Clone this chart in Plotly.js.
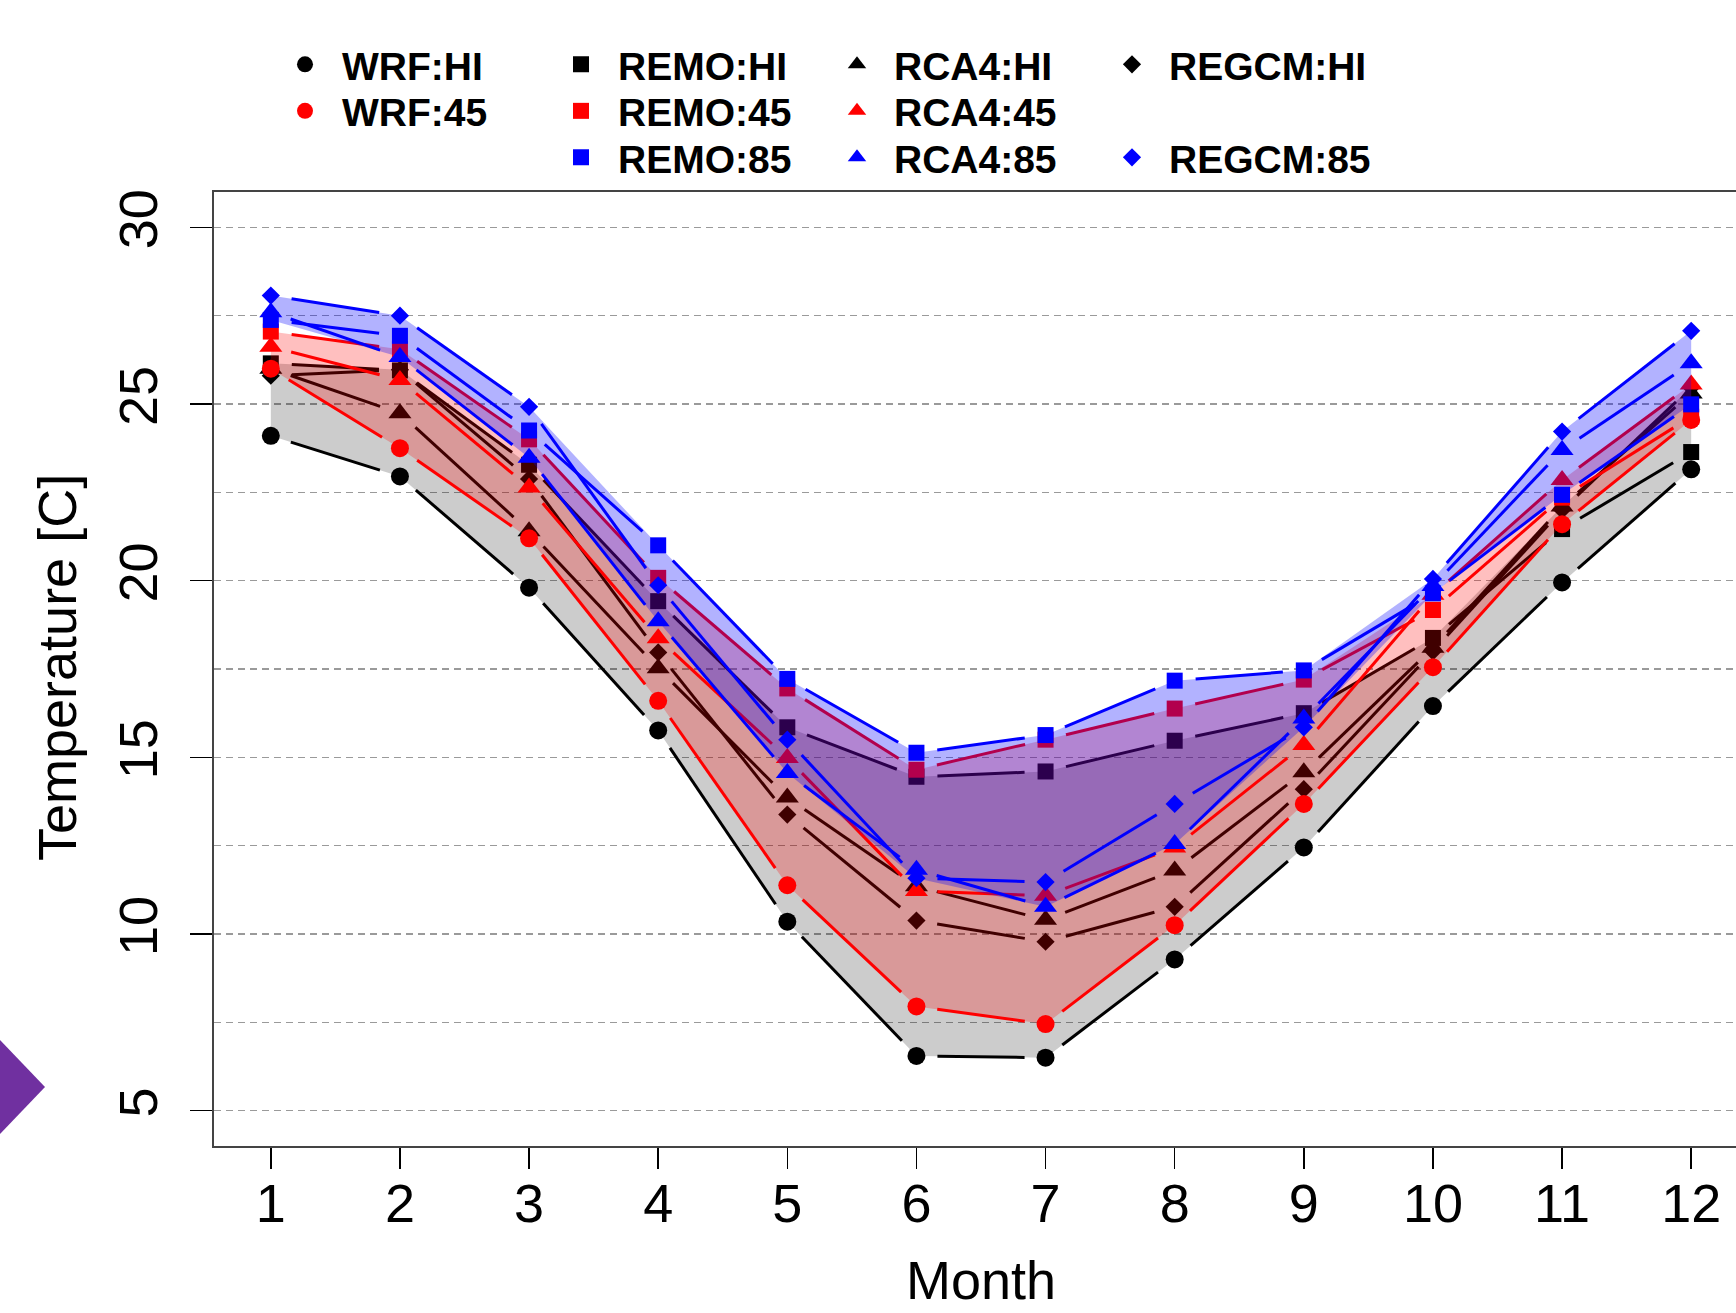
<!DOCTYPE html>
<html><head><meta charset="utf-8">
<script src="https://cdn.plot.ly/plotly-3.0.1.min.js"></script>
<style>html,body{margin:0;padding:0;overflow:hidden;background:#fff;} #chart{width:1750px;height:1313px;}</style>
</head><body><div id="chart"></div>
<script>
// ---- data ----
const months = [1,2,3,4,5,6,7,8,9,10,11,12];
const wrfHI   = [24.10, 22.95, 19.80, 15.76, 10.35, 6.55, 6.50, 9.28, 12.45, 16.45, 19.95, 23.15];
const wrf45   = [26.00, 23.75, 21.20, 16.60, 11.38, 7.95, 7.45, 10.25, 13.68, 17.55, 21.60, 24.55];
const remoHI  = [26.15, 25.95, 23.28, 19.42, 15.85, 14.45, 14.60, 15.47, 16.25, 18.38, 21.46, 23.64];
const remo45  = [27.05, 26.55, 24.00, 20.08, 16.95, 14.65, 15.50, 16.38, 17.20, 19.17, 22.35, 24.64];
const remo85  = [27.38, 26.93, 24.25, 21.00, 17.22, 15.13, 15.63, 17.17, 17.46, 19.64, 22.43, 24.99];
const rca4HI  = [26.00, 24.74, 21.40, 17.52, 13.86, 11.35, 10.40, 11.80, 14.58, 18.10, 22.10, 25.30];
const rca445  = [26.62, 25.68, 22.64, 18.37, 14.98, 11.22, 11.08, 12.45, 15.35, 19.60, 22.85, 25.55];
const rca485  = [27.60, 26.33, 23.48, 18.85, 14.56, 11.82, 10.77, 12.55, 16.10, 19.85, 23.70, 26.15];
const regcmHI = [25.80, 25.97, 22.88, 17.97, 13.38, 10.38, 9.78, 10.77, 14.10, 18.00, 22.00, 25.47];
const regcm85 = [28.07, 27.50, 24.92, 19.87, 15.50, 11.58, 11.47, 13.68, 15.85, 20.05, 24.22, 27.07];
const yTickVals = [5, 10, 15, 20, 25, 30];
const xTickText = months.map(String);

// ---- styling ----
const FONT = 'Liberation Sans, Arial, Helvetica, sans-serif';
const W = 1750, H = 1313;
const M = {l: 214, r: 2, t: 192, b: 167, autoexpand: false};
const XR = [0.56, 12.44], YR = [4, 31];
const colHI = '#000000', col45 = '#ff0000', col85 = '#0000ff';
const SYM = {WRF: ['circle', 18], REMO: ['square', 16], RCA4: ['triangle-up', 20], REGCM: ['diamond', 14]};
const GAP = 21; // px gap between line segments and points (R type="b")
// legend cell (column, row) for each series
const legendX = [305, 581, 857, 1132];
const legendY = [64.5, 111, 157.5];

const groups = [
  {fill: 'rgba(0,0,0,0.2)', color: colHI, series: [
    {name: 'WRF:HI', model: 'WRF', y: wrfHI, cell: [0,0]},
    {name: 'REMO:HI', model: 'REMO', y: remoHI, cell: [1,0]},
    {name: 'RCA4:HI', model: 'RCA4', y: rca4HI, cell: [2,0]},
    {name: 'REGCM:HI', model: 'REGCM', y: regcmHI, cell: [3,0]}]},
  {fill: 'rgba(255,0,0,0.25)', color: col45, series: [
    {name: 'WRF:45', model: 'WRF', y: wrf45, cell: [0,1]},
    {name: 'REMO:45', model: 'REMO', y: remo45, cell: [1,1]},
    {name: 'RCA4:45', model: 'RCA4', y: rca445, cell: [2,1]}]},
  {fill: 'rgba(0,0,255,0.3)', color: col85, series: [
    {name: 'REMO:85', model: 'REMO', y: remo85, cell: [1,2]},
    {name: 'RCA4:85', model: 'RCA4', y: rca485, cell: [2,2]},
    {name: 'REGCM:85', model: 'REGCM', y: regcm85, cell: [3,2]}]}
];

const plotW = W - M.l - M.r, plotH = H - M.t - M.b;
const kx = plotW / (XR[1] - XR[0]), ky = plotH / (YR[1] - YR[0]);

// segments between consecutive points, trimmed at both ends like R's type="b"
function gappedSegments(xs, ys) {
  const sx = [], sy = [];
  for (let i = 0; i < xs.length - 1; i++) {
    const dx = xs[i+1] - xs[i], dy = ys[i+1] - ys[i];
    const L = Math.hypot(dx * kx, dy * ky);
    if (L <= 2 * GAP) continue;
    const t = GAP / L;
    sx.push(xs[i] + t * dx, xs[i+1] - t * dx, null);
    sy.push(ys[i] + t * dy, ys[i+1] - t * dy, null);
  }
  return [sx, sy];
}

const traces = [];
const layoutLegends = {};
let legendIdx = 0;
groups.forEach(g => {
  const ys = g.series.map(s => s.y);
  const hi = months.map((m, i) => Math.max(...ys.map(a => a[i])));
  const lo = months.map((m, i) => Math.min(...ys.map(a => a[i])));
  traces.push({
    type: 'scatter', mode: 'lines', x: months.concat(months.slice().reverse()),
    y: hi.concat(lo.slice().reverse()), fill: 'toself', fillcolor: g.fill,
    line: {width: 0}, showlegend: false, hoverinfo: 'skip'
  });
  g.series.forEach(s => {
    legendIdx += 1;
    const key = legendIdx === 1 ? 'legend' : 'legend' + legendIdx;
    const seg = gappedSegments(months, s.y);
    traces.push({type: 'scatter', mode: 'lines', x: seg[0], y: seg[1], connectgaps: false,
      line: {color: g.color, width: 3}, showlegend: false, hoverinfo: 'skip'});
    traces.push({type: 'scatter', mode: 'markers', x: months, y: s.y, name: s.name,
      marker: {color: g.color, symbol: SYM[s.model][0], size: SYM[s.model][1]},
      showlegend: true, legend: key});
    layoutLegends[key] = {
      x: (legendX[s.cell[0]] - 37) / W, y: 1 - legendY[s.cell[1]] / H,
      xref: 'container', yref: 'container', xanchor: 'left', yanchor: 'middle',
      orientation: 'v', itemwidth: 64, borderwidth: 0, bgcolor: 'rgba(0,0,0,0)',
      font: {family: FONT, size: 39, weight: 'bold', color: '#000'}
    };
  });
});

const px = v => (v - M.l) / plotW;
const py = v => (H - M.b - v) / plotH;

const layout = Object.assign({
  width: W, height: H, margin: M,
  paper_bgcolor: '#ffffff', plot_bgcolor: '#ffffff',
  font: {family: FONT, color: '#000'},
  xaxis: {
    range: XR, tickvals: months, ticktext: xTickText, automargin: false,
    ticks: 'outside', ticklen: 21, tickwidth: 1.5, tickcolor: '#000', ticklabelstandoff: -12,
    showgrid: false, zeroline: false, showline: true, mirror: true,
    linecolor: '#444', linewidth: 2,
    tickfont: {family: FONT, size: 54, color: '#000'}
  },
  yaxis: {
    range: YR, tickvals: yTickVals, ticktext: yTickVals.map(String), tickangle: -90, automargin: false,
    ticks: 'outside', ticklen: 22, tickwidth: 1.5, tickcolor: '#000', ticklabelstandoff: 11,
    showgrid: true, gridcolor: '#9a9a9a', gridwidth: 1.5, griddash: '7px,5px',
    minor: {dtick: 2.5, tick0: 0, showgrid: true, gridcolor: '#9a9a9a', gridwidth: 1.5, griddash: '7px,5px', ticks: ''},
    zeroline: false, showline: true, mirror: true, linecolor: '#444', linewidth: 2,
    tickfont: {family: FONT, size: 54, color: '#000'}
  },
  annotations: [{
    text: 'Temperature [C]', textangle: -90, showarrow: false,
    xref: 'paper', yref: 'paper', x: px(57), y: py(668), xanchor: 'center', yanchor: 'middle',
    font: {family: FONT, size: 54, color: '#000'}
  }, {
    text: 'Month', showarrow: false,
    xref: 'paper', yref: 'paper', x: 0.5, y: py(1280), xanchor: 'center', yanchor: 'middle',
    font: {family: FONT, size: 54, color: '#000'}
  }],
  shapes: [{
    type: 'path', xref: 'paper', yref: 'paper', layer: 'above',
    path: 'M ' + px(0) + ' ' + py(1040) + ' L ' + px(45) + ' ' + py(1087) + ' L ' + px(0) + ' ' + py(1134) + ' Z',
    fillcolor: '#7030a0', line: {width: 0}
  }],
  showlegend: true
}, layoutLegends);

Plotly.newPlot('chart', traces, layout, {displayModeBar: false, staticPlot: true});
</script></body></html>
